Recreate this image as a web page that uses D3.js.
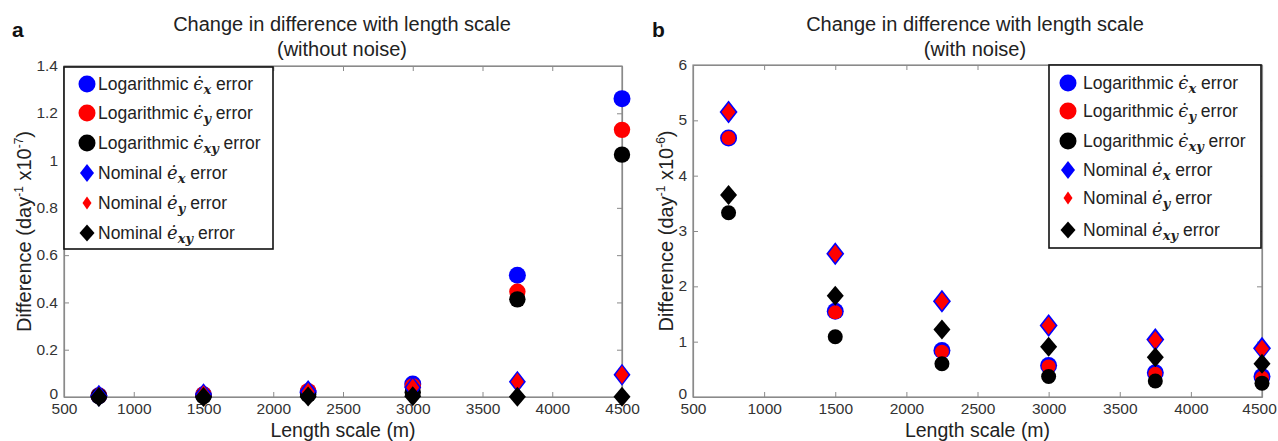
<!DOCTYPE html>
<html><head><meta charset="utf-8">
<script src="https://cdn.jsdelivr.net/npm/d3@7"></script>
<style>
body{margin:0;background:#fff;}
svg{display:block;font-family:"Liberation Sans",Arial,sans-serif;}
</style></head>
<body><svg id="c" width="1278" height="441"></svg>
<script>
const lengthScales = [750, 1500, 2250, 3000, 3750, 4500];
// Panel a (without noise), units day^-1 x10^-7
const aLogX  = [0.005, 0.01, 0.02, 0.055, 0.515, 1.262];
const aLogY  = [0.005, 0.01, 0.025, 0.045, 0.445, 1.13];
const aLogXY = [0.003, 0.003, 0.01, 0.02, 0.413, 1.025];
const aNomX  = [0.005, 0.012, 0.025, 0.04, 0.064, 0.094];
const aNomY  = [0.005, 0.012, 0.022, 0.04, 0.064, 0.094];
const aNomXY = [0.0, 0.0, 0.002, 0.003, 0.001, 0.001];
// Panel b (with noise), units day^-1 x10^-6
const bLogX  = [4.68, 1.55, 0.84, 0.57, 0.44, 0.37];
const bLogY  = [4.68, 1.53, 0.82, 0.55, 0.42, 0.35];
const bLogXY = [3.33, 1.09, 0.60, 0.37, 0.29, 0.25];
const bNomX  = [5.15, 2.59, 1.73, 1.29, 1.04, 0.88];
const bNomY  = [5.15, 2.59, 1.73, 1.29, 1.03, 0.87];
const bNomXY = [3.65, 1.83, 1.22, 0.91, 0.72, 0.60];

const xTicks = [500, 1000, 1500, 2000, 2500, 3000, 3500, 4000, 4500];
const aYTicks = [0, 0.2, 0.4, 0.6, 0.8, 1, 1.2, 1.4];
const bYTicks = [0, 1, 2, 3, 4, 5, 6];

const seriesDefs = [
  {name:"logx", shape:"circle", color:"#0000ff", label:["Logarithmic ","\u03F5\u0307","x"," error"]},
  {name:"logy", shape:"circle", color:"#ff0000", label:["Logarithmic ","\u03F5\u0307","y"," error"]},
  {name:"logxy", shape:"circle", color:"#000000", label:["Logarithmic ","\u03F5\u0307","xy"," error"]},
  {name:"nomx", shape:"diamond", color:"#0000ff", label:["Nominal ","e\u0307","x"," error"]},
  {name:"nomy", shape:"diamond", color:"#ff0000", label:["Nominal ","e\u0307","y"," error"]},
  {name:"nomxy", shape:"diamond", color:"#000000", label:["Nominal ","e\u0307","xy"," error"]},
];
const sizesA = [8.5, 8.2, 8.2, [8.5,11], [6.5,9], [8.5,10]];
const sizesB = [8.5, 7, 7.5, [9,11.5], [7,9], [8.5,10]];
const sizesLegend = [8.5, 8.5, 8.5, [7,9], [4.5,6.5], [7.5,8.5]];

const svg = d3.select("#c");

function diamond(w,h){ return `M0,${-h}L${w},0L0,${h}L${-w},0Z`; }
function circle(r){ return d3.arc()({innerRadius:0,outerRadius:r,startAngle:0,endAngle:2*Math.PI}); }
function shapePath(s,sz){ return s.shape==="circle" ? circle(sz) : diamond(sz[0],sz[1]); }

function drawPanel(cfg){
  const {x0,x1,y0,y1,yMax,yTicks,data,sizes,title,sub,letter,letterX,ylab,yexp,legend,titleX,lastShift} = cfg;
  const g = svg.append("g");
  const x = d3.scaleLinear().domain([500,4500]).range([x0,x1]);
  const y = d3.scaleLinear().domain([0,yMax]).range([y1,y0]);
  const axisColor = "#8a8a8a";
  const fmt = d => String(d);

  g.append("rect").attr("x",x0).attr("y",y0).attr("width",x1-x0).attr("height",y1-y0)
    .attr("fill","none").attr("stroke",axisColor).attr("stroke-width",1.2);

  const ax = g.append("g").attr("transform",`translate(0,${y1})`)
    .call(d3.axisBottom(x).tickValues(xTicks).tickFormat(fmt).tickSizeInner(-5).tickSizeOuter(0).tickPadding(4));
  const axT = g.append("g").attr("transform",`translate(0,${y0})`)
    .call(d3.axisTop(x).tickValues(xTicks).tickFormat("").tickSizeInner(-5).tickSizeOuter(0));
  const ay = g.append("g").attr("transform",`translate(${x0},0)`)
    .call(d3.axisLeft(y).tickValues(yTicks).tickFormat(fmt).tickSizeInner(-5).tickSizeOuter(0).tickPadding(6));
  const ayR = g.append("g").attr("transform",`translate(${x1},0)`)
    .call(d3.axisRight(y).tickValues(yTicks).tickFormat("").tickSizeInner(-5).tickSizeOuter(0));
  [ax,axT,ay,ayR].forEach(a=>{
    a.selectAll("path.domain").attr("stroke",axisColor).attr("stroke-width",1.2);
    a.selectAll(".tick line").attr("stroke",axisColor);
    a.selectAll("text").attr("font-size",15.5).attr("fill","#333").attr("font-family","Liberation Sans, Arial, sans-serif");
  });
  ax.selectAll("text").attr("dy","0.85em");
  ay.selectAll("text").attr("dy","0.3em");
  ay.selectAll(".tick").filter(d=>d===0).select("text").attr("dy","0.1em");
  if(lastShift) ax.selectAll(".tick").filter(d=>d===4500).select("text").attr("dx",lastShift);

  seriesDefs.forEach((s,i)=>{
    const vals = data[i];
    g.append("g").selectAll("path").data(lengthScales.map((L,j)=>[L,vals[j]])).join("path")
      .attr("transform",d=>`translate(${x(d[0])},${y(d[1])})`)
      .attr("fill",s.color)
      .attr("d", shapePath(s,sizes[i]));
  });

  g.append("text").attr("x",titleX).attr("y",31).attr("text-anchor","middle").attr("font-size",20).attr("fill","#222").text(title);
  g.append("text").attr("x",titleX).attr("y",56).attr("text-anchor","middle").attr("font-size",20).attr("fill","#222").text(sub);
  g.append("text").attr("x",letterX).attr("y",37).attr("font-size",21).attr("font-weight","bold").attr("fill","#111").text(letter);

  g.append("text").attr("x",(x0+x1)/2).attr("y",437).attr("text-anchor","middle").attr("font-size",19.5).attr("fill","#222").text("Length scale (m)");
  const yl = g.append("text").attr("transform",`translate(${ylab},${(y0+y1)/2}) rotate(-90)`)
    .attr("text-anchor","middle").attr("font-size",20).attr("fill","#222");
  yl.append("tspan").text("Difference (day");
  yl.append("tspan").attr("font-size",12).attr("dy",-8).text("-1");
  yl.append("tspan").attr("dy",8).text(" x10");
  yl.append("tspan").attr("font-size",12).attr("dy",-8).text(yexp);
  yl.append("tspan").attr("dy",8).text(")");

  const lg = g.append("g");
  lg.append("rect").attr("x",legend.x).attr("y",legend.y).attr("width",legend.w).attr("height",legend.h)
    .attr("fill","#fff").attr("stroke","#111").attr("stroke-width",1.6);
  seriesDefs.forEach((s,i)=>{
    const cy = legend.rows[i];
    lg.append("path").attr("transform",`translate(${legend.mx},${cy})`).attr("fill",s.color)
      .attr("d", shapePath(s,sizesLegend[i]));
    const t = lg.append("text").attr("x",legend.tx).attr("y",cy+6).attr("font-size",17.5).attr("fill","#222");
    t.append("tspan").text(s.label[0]);
    t.append("tspan").attr("font-family","DejaVu Serif, serif").attr("font-style","italic").attr("font-size",18).text(s.label[1]);
    t.append("tspan").attr("font-family","DejaVu Serif, serif").attr("font-style","italic").attr("font-weight","bold").attr("font-size",13).attr("dy",4).text(s.label[2]);
    t.append("tspan").attr("dy",-4).text(s.label[3]);
  });
}

drawPanel({x0:64,x1:622,y0:66,y1:397,yMax:1.4,yTicks:aYTicks,
  data:[aLogX,aLogY,aLogXY,aNomX,aNomY,aNomXY], sizes:sizesA,
  title:"Change in difference with length scale", sub:"(without noise)", titleX:342,
  letter:"a", letterX:12, ylab:31, yexp:"-7",
  legend:{x:64,y:67,w:209,h:182,mx:87,tx:98,rows:[84,113,143,173,203,233]}});

drawPanel({x0:693,x1:1262,y0:65,y1:397,yMax:6,yTicks:bYTicks,
  data:[bLogX,bLogY,bLogXY,bNomX,bNomY,bNomXY], sizes:sizesB,
  title:"Change in difference with length scale", sub:"(with noise)", titleX:975,
  letter:"b", letterX:652, ylab:673, yexp:"-6", lastShift:-3,
  legend:{x:1049,y:65,w:212,h:183,mx:1068,tx:1083,rows:[83,111,141,170,198,230]}});
</script></body></html>
